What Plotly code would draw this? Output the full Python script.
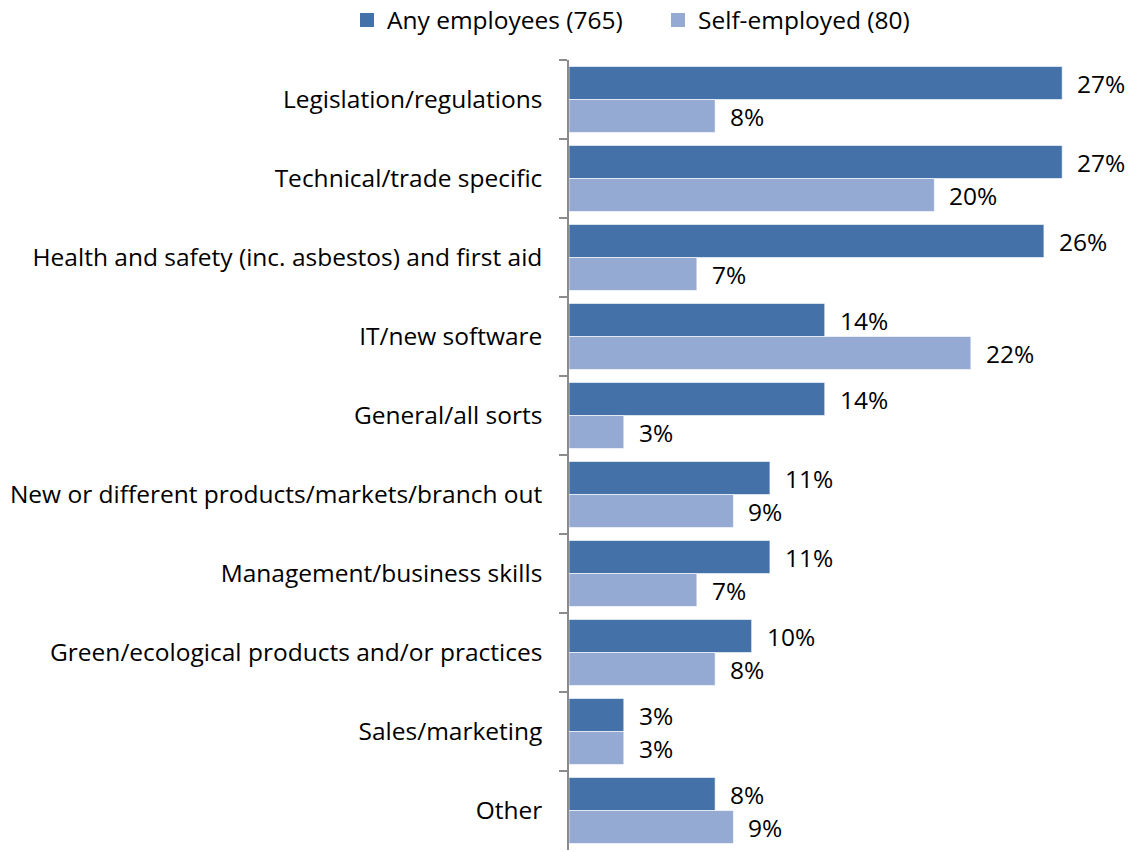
import plotly.graph_objects as go

categories = [
    "Legislation/regulations",
    "Technical/trade specific",
    "Health and safety (inc. asbestos) and first aid",
    "IT/new software",
    "General/all sorts",
    "New or different products/markets/branch out",
    "Management/business skills",
    "Green/ecological products and/or practices",
    "Sales/marketing",
    "Other",
]
any_employees = [27, 27, 26, 14, 14, 11, 11, 10, 3, 8]
self_employed = [8, 20, 7, 22, 3, 9, 7, 8, 3, 9]
series_names = ["Any employees (765)", "Self-employed (80)"]
colors = ["#4472A8", "#95AAD2"]

FONT = "Open Sans, Calibri, Carlito, sans-serif"
SIZE = 24.5

fig = go.Figure()
for name, vals, col in zip(series_names, [any_employees, self_employed], colors):
    fig.add_trace(go.Bar(
        y=categories, x=vals, name=name, orientation="h", showlegend=False,
        marker=dict(color=col, line=dict(color="rgba(255,255,255,0.6)", width=1)),
    ))

# legend entries with larger square swatches, one legend box per series
for name, col, leg in zip(series_names, colors, ["legend", "legend2"]):
    fig.add_trace(go.Scatter(
        x=[None], y=[None], mode="markers", name=name, legend=leg,
        marker=dict(symbol="square", size=14, color=col),
    ))

# value labels beside each bar
for shift, vals in zip([16.5, -16.5], [any_employees, self_employed]):
    for cat, v in zip(categories, vals):
        fig.add_annotation(
            x=v, y=cat, text=f"{v}%", showarrow=False,
            xanchor="left", xshift=13, yshift=shift,
            font=dict(family=FONT, size=SIZE, color="#000000"),
        )

legend_style = dict(
    orientation="h", xref="container", xanchor="left",
    y=1 - 20 / 852, yref="container", yanchor="middle",
    font=dict(family=FONT, size=SIZE, color="#000000"),
    itemwidth=30, bgcolor="rgba(0,0,0,0)",
)

fig.update_layout(
    width=1132, height=852,
    margin=dict(l=569, r=15, t=60, b=2, autoexpand=False),
    paper_bgcolor="white", plot_bgcolor="white",
    barmode="group", bargap=0.165, bargroupgap=0,
    font=dict(family=FONT, size=SIZE, color="#000000"),
    legend=dict(x=347 / 1132, **legend_style),
    legend2=dict(x=658 / 1132, **legend_style),
)
fig.update_xaxes(range=[0, 30], visible=False, showgrid=False)
fig.update_yaxes(
    autorange="reversed", showline=True, linecolor="#8C8C8C", linewidth=1.5,
    ticks="outside", ticklen=8, tickcolor="#8C8C8C", tickwidth=1.5,
    tickson="boundaries", ticklabelstandoff=20, showgrid=False,
    tickfont=dict(family=FONT, size=SIZE, color="#000000"),
)

fig.write_html("out.html")
